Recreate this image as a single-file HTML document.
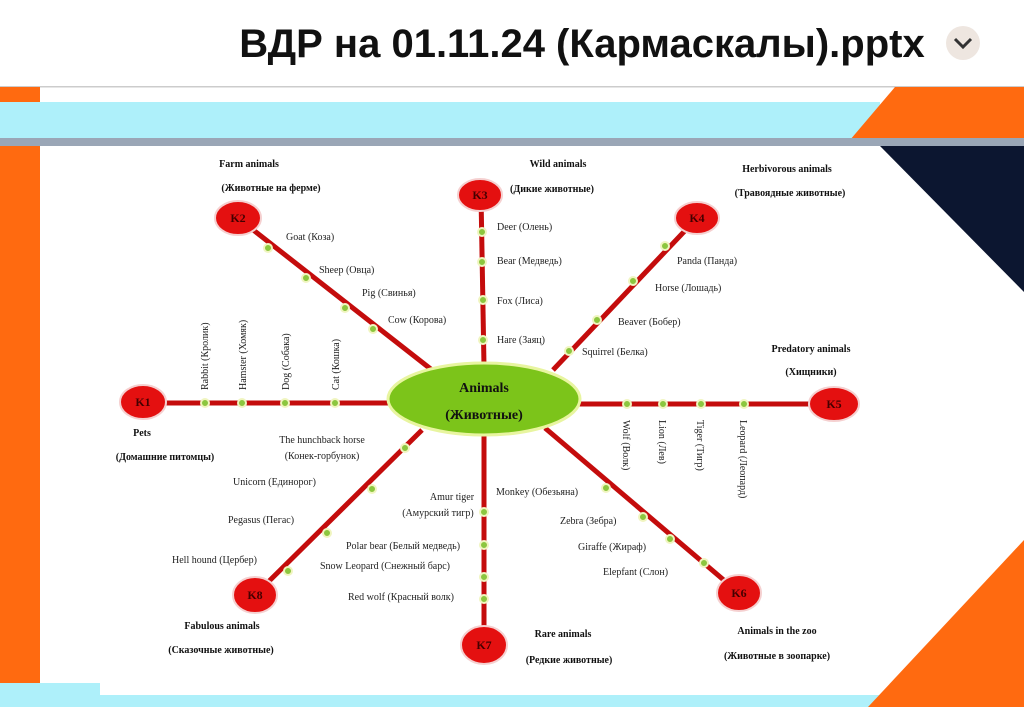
<!DOCTYPE html>
<html><head><meta charset="utf-8"><style>
html,body{margin:0;padding:0;width:1024px;height:707px;overflow:hidden;background:#fff}
svg{display:block}
.t{font-family:"Liberation Serif","Noto Serif CJK SC",serif;font-size:10px;fill:#222}
.b{font-family:"Liberation Serif","Noto Serif CJK SC",serif;font-size:10px;font-weight:bold;fill:#111}
.k{font-family:"Liberation Serif",serif;font-size:12px;font-weight:bold;fill:#400}
</style></head><body>
<svg width="1024" height="707" viewBox="0 0 1024 707" xmlns="http://www.w3.org/2000/svg">
<rect width="1024" height="707" fill="#fff"/>
<text x="582" y="57" text-anchor="middle" font-family="Liberation Sans,sans-serif" font-size="40" font-weight="bold" fill="#111">ВДР на 01.11.24 (Кармаскалы).pptx</text>
<circle cx="963" cy="43" r="17" fill="#eee6e0"/>
<path d="M955 39 L963 47 L971 39" stroke="#333" stroke-width="3" fill="none"/>
<rect x="0" y="86" width="1024" height="60" fill="#fff"/>
<rect x="0" y="86" width="1024" height="1.5" fill="#ccc"/>
<rect x="0" y="87" width="40" height="17" fill="#ff6a10"/>
<rect x="0" y="102" width="880" height="36" fill="#aef0fa"/>
<polygon points="895,87 1024,87 1024,140 850,140" fill="#ff6a10"/>
<rect x="0" y="138" width="1024" height="8" fill="#9aa6b6"/>
<rect x="0" y="146" width="40" height="537" fill="#ff6a10"/>
<polygon points="880,146 1024,146 1024,292" fill="#0c1630"/>
<rect x="0" y="683" width="880" height="24" fill="#aef0fa"/>
<rect x="100" y="683" width="780" height="12" fill="#fff"/>
<polygon points="1024,540 1024,707 868,707" fill="#ff6a10"/>
<g stroke="#c40c0c" stroke-width="5" fill="none">
<line x1="238" y1="218" x2="432" y2="370"/>
<line x1="481" y1="195" x2="484" y2="366"/>
<line x1="697" y1="218" x2="553" y2="370"/>
<line x1="150" y1="403" x2="392" y2="403"/>
<line x1="578" y1="404" x2="820" y2="404"/>
<line x1="545" y1="428" x2="739" y2="593"/>
<line x1="484" y1="432" x2="484" y2="645"/>
<line x1="422" y1="430" x2="255" y2="595"/>
</g>
<g fill="#8cc63f" stroke="#f0f5c0" stroke-width="2">
<circle cx="268" cy="248" r="4"/><circle cx="306" cy="278" r="4"/><circle cx="345" cy="308" r="4"/><circle cx="373" cy="329" r="4"/>
<circle cx="482" cy="232" r="4"/><circle cx="482" cy="262" r="4"/><circle cx="483" cy="300" r="4"/><circle cx="483" cy="340" r="4"/>
<circle cx="665" cy="246" r="4"/><circle cx="633" cy="281" r="4"/><circle cx="597" cy="320" r="4"/><circle cx="569" cy="351" r="4"/>
<circle cx="205" cy="403" r="4"/><circle cx="242" cy="403" r="4"/><circle cx="285" cy="403" r="4"/><circle cx="335" cy="403" r="4"/>
<circle cx="627" cy="404" r="4"/><circle cx="663" cy="404" r="4"/><circle cx="701" cy="404" r="4"/><circle cx="744" cy="404" r="4"/>
<circle cx="606" cy="488" r="4"/><circle cx="643" cy="517" r="4"/><circle cx="670" cy="539" r="4"/><circle cx="704" cy="563" r="4"/>
<circle cx="484" cy="512" r="4"/><circle cx="484" cy="545" r="4"/><circle cx="484" cy="577" r="4"/><circle cx="484" cy="599" r="4"/>
<circle cx="405" cy="448" r="4"/><circle cx="372" cy="489" r="4"/><circle cx="327" cy="533" r="4"/><circle cx="288" cy="571" r="4"/>
</g>
<ellipse cx="484" cy="399" rx="96" ry="36" fill="#7cc41a" stroke="#e8f5a0" stroke-width="3"/>
<text x="484" y="392" text-anchor="middle" font-family="Liberation Serif,serif" font-size="14" font-weight="bold" fill="#111">Animals</text>
<text x="484" y="419" text-anchor="middle" font-family="Liberation Serif,serif" font-size="14" font-weight="bold" fill="#111">(Животные)</text>
<g fill="#e41010" stroke="#f5d0d0" stroke-width="2">
<ellipse cx="143" cy="402" rx="23" ry="17"/><ellipse cx="238" cy="218" rx="23" ry="17"/><ellipse cx="480" cy="195" rx="22" ry="16"/><ellipse cx="697" cy="218" rx="22" ry="16"/>
<ellipse cx="834" cy="404" rx="25" ry="17"/><ellipse cx="739" cy="593" rx="22" ry="18"/><ellipse cx="484" cy="645" rx="23" ry="19"/><ellipse cx="255" cy="595" rx="22" ry="18"/>
</g>
<g class="k" text-anchor="middle">
<text class="k" x="143" y="406">K1</text><text class="k" x="238" y="222">K2</text><text class="k" x="480" y="199">K3</text><text class="k" x="697" y="222">K4</text>
<text class="k" x="834" y="408">K5</text><text class="k" x="739" y="597">K6</text><text class="k" x="484" y="649">K7</text><text class="k" x="255" y="599">K8</text>
</g>
<g class="b" text-anchor="middle">
<text class="b" x="249" y="167">Farm animals</text><text class="b" x="271" y="191">(Животные на ферме)</text>
<text class="b" x="558" y="167">Wild animals</text><text class="b" x="552" y="192">(Дикие животные)</text>
<text class="b" x="787" y="172">Herbivorous animals</text><text class="b" x="790" y="196">(Травоядные животные)</text>
<text class="b" x="811" y="352">Predatory animals</text><text class="b" x="811" y="375">(Хищники)</text>
<text class="b" x="142" y="436">Pets</text><text class="b" x="165" y="460">(Домашние питомцы)</text>
<text class="b" x="222" y="629">Fabulous animals</text><text class="b" x="221" y="653">(Сказочные животные)</text>
<text class="b" x="563" y="637">Rare animals</text><text class="b" x="569" y="663">(Редкие животные)</text>
<text class="b" x="777" y="634">Animals in the zoo</text><text class="b" x="777" y="659">(Животные в зоопарке)</text>
</g>
<g class="t">
<text class="t" x="286" y="240">Goat (Коза)</text>
<text class="t" x="319" y="273">Sheep (Овца)</text>
<text class="t" x="362" y="296">Pig (Свинья)</text>
<text class="t" x="388" y="323">Cow  (Корова)</text>
<text class="t" x="497" y="230">Deer (Олень)</text>
<text class="t" x="497" y="264">Bear (Медведь)</text>
<text class="t" x="497" y="304">Fox (Лиса)</text>
<text class="t" x="497" y="343">Hare (Заяц)</text>
<text class="t" x="677" y="264">Panda (Панда)</text>
<text class="t" x="655" y="291">Horse (Лошадь)</text>
<text class="t" x="618" y="325">Beaver (Бобер)</text>
<text class="t" x="582" y="355">Squirrel (Белка)</text>
<text class="t" x="496" y="495">Monkey (Обезьяна)</text>
<text class="t" x="560" y="524">Zebra (Зебра)</text>
<text class="t" x="578" y="550">Giraffe (Жираф)</text>
<text class="t" x="603" y="575">Elepfant (Слон)</text>
<text class="t" x="452" y="500" text-anchor="middle">Amur tiger</text>
<text class="t" x="438" y="516" text-anchor="middle">(Амурский тигр)</text>
<text class="t" x="346" y="549">Polar bear (Белый медведь)</text>
<text class="t" x="320" y="569">Snow Leopard (Снежный барс)</text>
<text class="t" x="348" y="600">Red wolf (Красный волк)</text>
<text class="t" x="322" y="443" text-anchor="middle">The hunchback horse</text>
<text class="t" x="322" y="459" text-anchor="middle">(Конек-горбунок)</text>
<text class="t" x="233" y="485">Unicorn (Единорог)</text>
<text class="t" x="228" y="523">Pegasus (Пегас)</text>
<text class="t" x="172" y="563">Hell hound (Цербер)</text>
<text class="t" transform="translate(208,390) rotate(-90)">Rabbit (Кролик)</text>
<text class="t" transform="translate(246,390) rotate(-90)">Hamster (Хомяк)</text>
<text class="t" transform="translate(289,390) rotate(-90)">Dog (Собака)</text>
<text class="t" transform="translate(339,390) rotate(-90)">Cat (Кошка)</text>
<text class="t" transform="translate(623,420) rotate(90)">Wolf (Волк)</text>
<text class="t" transform="translate(659,420) rotate(90)">Lion (Лев)</text>
<text class="t" transform="translate(697,420) rotate(90)">Tiger (Тигр)</text>
<text class="t" transform="translate(740,420) rotate(90)">Leopard (Леопард)</text>
</g>
</svg>
</body></html>
